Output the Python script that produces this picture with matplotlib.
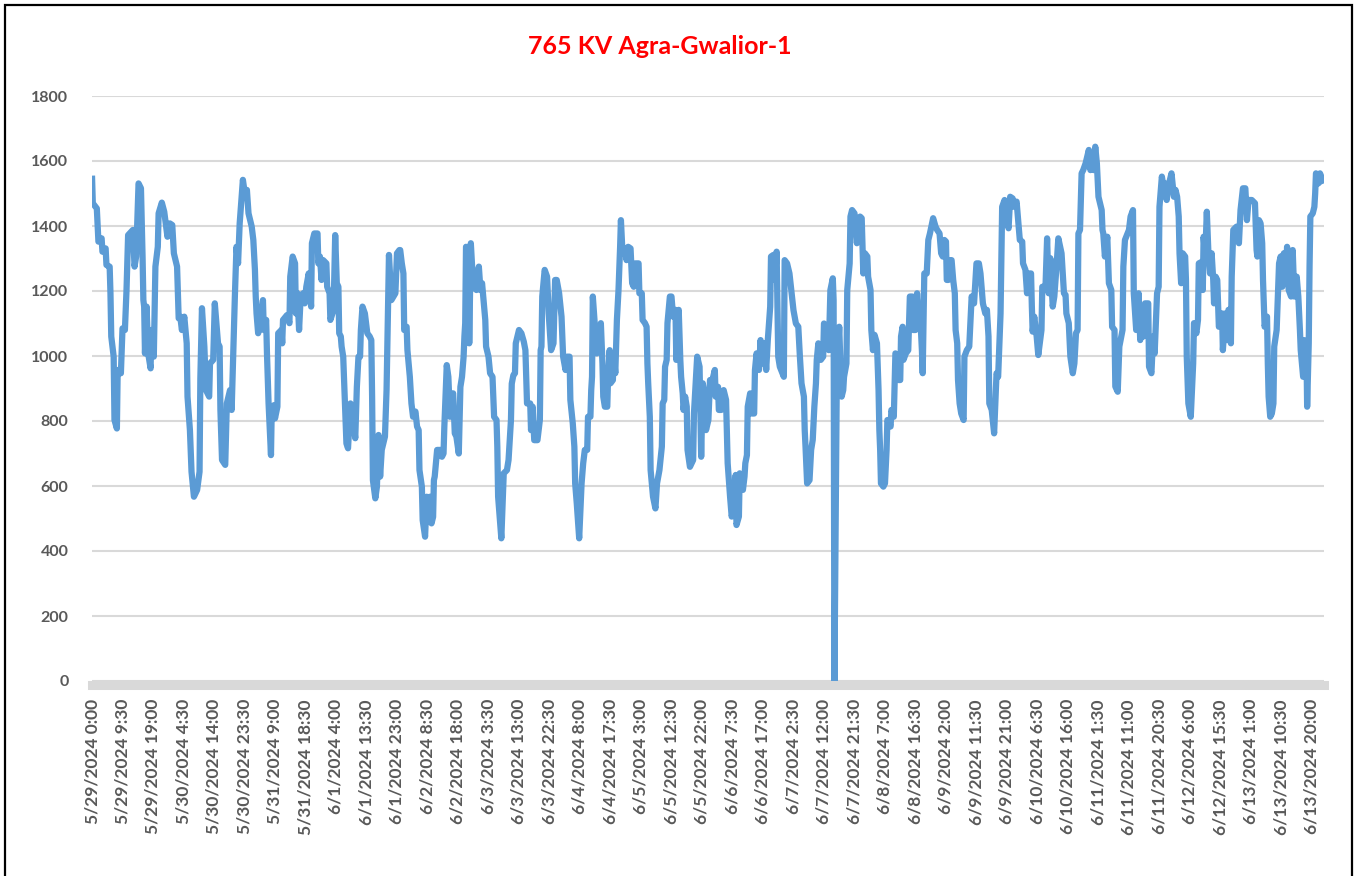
import matplotlib
matplotlib.use("Agg")
import matplotlib.pyplot as plt
from matplotlib.patches import Rectangle

# 15-minute slot index (0 = 5/29/2024 0:00) and line flow values (MW)
slots = [
    0, 1, 6, 8, 12, 13, 17, 18, 22, 23, 24, 27, 28, 31, 32, 36, 38, 41, 43, 45, 51, 53, 55, 58, 61, 63, 64, 65, 66, 68,
    70, 73, 74, 77, 79, 82, 83, 87, 90, 94, 97, 100, 102, 106, 108, 110, 112, 115, 118, 119, 122, 124, 127, 131, 134,
    135, 137, 140, 142, 146, 147, 151, 153, 157, 159, 160, 162, 166, 168, 172, 174, 178, 180, 182, 184, 188,
    191, 193, 195, 199, 201, 203, 204, 205, 207, 209, 213, 214, 217, 218, 220, 223, 224, 227, 228, 231, 232, 236, 237,
    238, 243, 246, 247, 250, 253, 254, 256, 258, 260, 263, 265, 267, 270, 273, 274, 277, 281, 282, 284, 286, 288, 292,
    293, 296, 297, 301, 303, 305, 307, 308, 310, 311, 313, 315, 317, 319, 322, 324, 328, 330, 332, 334, 335, 337, 340,
    343, 346, 348, 349, 350, 353, 355, 357, 359, 361, 365, 367, 369, 370, 373, 378, 380, 383,
    384, 386, 388, 389, 392, 393, 396, 398, 400, 403, 405, 407, 408, 411, 412, 415, 417, 419, 421, 423, 425, 426, 427,
    430, 434, 436, 438, 439, 442, 444, 446, 448, 450, 452, 454, 457, 459, 461, 463, 464, 465, 466, 469, 470, 472, 475,
    479, 482, 484, 486, 490, 491, 494, 496, 499, 501, 504, 505, 506, 510, 513, 517, 519, 522, 523, 525, 527, 528, 532,
    535, 538, 540, 542, 546, 547, 549, 551, 555, 558, 559, 560, 561, 564, 567, 569, 572, 575, 577,
    579, 582, 585, 586, 587, 590, 592, 595, 596, 599, 601, 602, 604, 607, 610, 612, 614, 617, 618, 621, 622, 623, 624,
    627, 629, 632, 634, 636, 637, 639, 642, 643, 645, 646, 649, 650, 652, 654, 656, 658, 659, 661, 664, 666, 668, 671,
    673, 675, 677, 681, 682, 685, 686, 689, 691, 692, 693, 695, 696, 699, 702, 704, 707, 710, 711, 713, 714, 716, 717,
    720, 722, 724, 727, 728, 731, 733, 734, 736, 737, 739, 741, 742, 745, 749, 750, 754, 757, 759, 761, 763, 765, 768, 770,
    773, 776, 777, 780, 781, 784, 785, 787, 790, 791, 792, 795, 797, 799, 802, 803, 806, 807, 809, 811, 813, 814, 816,
    817, 820, 822, 825, 826, 828, 831, 833, 835, 838, 840, 842, 845, 846, 849, 851, 853, 855, 857, 862, 863,
    866, 869, 874, 877, 880, 882, 884, 887, 888, 889, 891, 894, 896, 898, 900, 902, 903, 905, 908, 911, 912, 916, 918,
    920, 923, 924, 925, 928, 931, 933, 934, 936, 937, 940, 941, 944,
    945, 947, 950, 953, 955, 957, 959, 961,
    963, 966, 967, 970, 971, 973, 975, 978, 980, 981, 982, 983, 986, 988, 990, 991, 995, 996, 999, 1001, 1004, 1005,
    1007, 1008, 1010, 1011, 1014, 1017, 1019, 1022, 1023, 1026, 1028, 1030, 1032, 1034, 1035, 1037, 1040, 1042, 1044,
    1048, 1051, 1053, 1056, 1058, 1060, 1062, 1064, 1065, 1067, 1068, 1071, 1073, 1075, 1076, 1078, 1079, 1081, 1083,
    1086, 1087, 1090, 1093, 1096, 1099, 1102, 1105, 1107, 1110, 1113, 1115, 1117, 1118, 1121, 1124, 1127, 1129, 1132,
    1134, 1137, 1139, 1142, 1144, 1147, 1149, 1152, 1156,
    1159, 1160, 1163, 1165, 1166, 1170, 1171, 1172, 1174, 1177, 1179, 1183, 1184, 1188, 1190, 1192, 1194, 1197, 1199,
    1202, 1204, 1208, 1211, 1213, 1214, 1217, 1219, 1222, 1224, 1226, 1228, 1229, 1231, 1233, 1235, 1238, 1240, 1242,
    1244, 1246, 1248, 1250, 1252, 1254, 1258, 1259, 1260, 1262, 1265, 1267, 1270, 1271, 1274, 1275, 1278, 1280, 1284,
    1285, 1287, 1292, 1294, 1297, 1298, 1301, 1304, 1306, 1308, 1310, 1312, 1316, 1317, 1320, 1322, 1324, 1327, 1329,
    1330, 1333, 1335, 1337, 1339, 1341, 1345, 1348,
    1350, 1352, 1354, 1355, 1357, 1359, 1362, 1363, 1364, 1366, 1369, 1372, 1373, 1376, 1378, 1379, 1383, 1384, 1385,
    1387, 1389, 1391, 1393, 1395, 1397, 1398, 1400, 1402, 1404, 1406, 1408, 1409, 1412, 1414, 1416, 1419, 1420, 1422,
    1426, 1429, 1431, 1434, 1437, 1439, 1441, 1445, 1449, 1451, 1452, 1454, 1456, 1458, 1459, 1461, 1464, 1465, 1466,
    1468, 1470, 1472, 1473, 1476, 1479, 1481, 1483, 1485, 1487, 1489, 1491, 1494, 1496, 1498, 1501, 1503, 1505, 1506,
    1509, 1510, 1513, 1514, 1516, 1517, 1518, 1521, 1523, 1524, 1525, 1528, 1530, 1535,
]
values = [
    1555, 1470, 1454, 1352, 1362, 1321, 1331, 1280, 1275, 1193, 1060, 998, 803, 777, 957, 947, 1085, 1080, 1203, 1372,
    1388, 1275, 1306, 1531, 1516, 1306, 1172, 1152, 1008, 1152, 1008, 962, 1080, 998, 1275, 1336, 1439, 1472, 1444,
    1367, 1408, 1403, 1316, 1275, 1116, 1121, 1080, 1121, 1039, 875, 772, 644, 567, 588, 644, 931, 1147, 1029, 895,
    875, 977, 988, 1162, 1039, 1029, 834, 680, 665, 854, 895, 834, 1183, 1336, 1285, 1408, 1542,
    1490, 1511, 1439, 1398, 1357, 1265, 1183, 1131, 1070, 1090, 1172, 1080, 1111, 1008, 854, 695, 844, 849, 808, 844,
    1070, 1080, 1039, 1111, 1126, 1101, 1244, 1306, 1285, 1131, 1193, 1080, 1183, 1193, 1162, 1213, 1254, 1152, 1347,
    1377, 1377, 1285, 1306, 1234, 1295, 1285, 1213, 1193, 1111, 1142, 1372, 1224, 1213, 1070, 1060, 1029, 998, 865,
    731, 716, 854, 834, 747, 905, 998, 998, 1080, 1152, 1131, 1070, 1060, 1049, 875, 618, 562, 598, 757, 629, 711,
    752, 895, 1162, 1311, 1172, 1193, 1316, 1326,
    1326, 1285, 1254, 1080, 1090, 1018, 936, 854, 813, 829, 783, 772, 649, 598, 495, 444, 567, 490, 567, 485, 505, 618,
    629, 711, 711, 690, 700, 783, 972, 936, 813, 885, 885, 762, 752, 700, 905, 936, 998, 1060, 1101, 1336, 1326, 1039,
    1347, 1213, 1203, 1275, 1203, 1224, 1111, 1029, 998, 947, 936, 813, 803, 721, 567, 439, 639, 649, 680, 803, 915,
    941, 947, 1039, 1080, 1070, 1044, 1018, 854, 854, 772, 844, 741, 741, 803, 1018, 1029, 1183, 1265, 1244, 1131,
    1018, 1039, 1234,
    1234, 1193, 1121, 1060, 998, 957, 998, 998, 865, 793, 721, 608, 546, 439, 608, 670, 711, 711, 813, 813, 895, 936,
    1183, 1080, 1008, 1018, 1101, 977, 875, 844, 844, 936, 1018, 916, 926, 1008, 947, 1111, 1203, 1336, 1418, 1316,
    1331, 1295, 1336, 1331, 1224, 1213, 1285, 1285, 1193, 1193, 1111, 1101, 1090, 977, 916, 813, 649, 567, 531, 608,
    649, 721, 854, 865, 967, 988, 1101, 1183, 1183, 1121, 1142, 988, 1142, 988, 936, 885, 834, 875, 844, 711, 659,
    680, 823, 998, 967, 690, 916, 885, 772, 803, 926,
    926, 957, 875, 905, 834, 834, 885, 895, 865, 772, 670, 567, 506, 526, 634, 480, 506, 639, 618, 588, 629, 670, 695,
    844, 885, 823, 823, 957, 1008, 957, 1049, 977, 1039, 957, 1049, 1152, 1306, 1311, 1234, 1321, 998, 967, 936, 1295,
    1285, 1254, 1141, 1100, 1090, 998, 916, 875, 772, 721, 608, 618, 711, 742, 844, 916, 988, 1039, 988, 998, 1100,
    1080, 1018, 1203, 1239, 1172, 0, 936, 1090, 936, 875, 895, 936, 977, 1203, 1285,
    1429, 1449, 1439, 1347, 1408, 1429, 1424, 1254,
    1316, 1306, 1244, 1203, 1080, 1018, 1065, 1039, 895, 772, 711, 608, 598, 608, 711, 803, 783, 834, 813, 1008, 998,
    926, 926, 1060, 1090, 988, 1008, 1018, 1183, 1183, 1080, 1080, 1193, 1121, 1121, 1018, 947, 1254, 1254, 1357,
    1377, 1424, 1398, 1388, 1377, 1316, 1306, 1357, 1352, 1234, 1234, 1295, 1295, 1234, 1193, 1080, 1039, 926, 854,
    823, 803, 998, 1018, 1029, 1183, 1162, 1285, 1285, 1254, 1162, 1131, 1142, 1060, 854, 834, 762, 947, 936, 1131,
    1459, 1480, 1418, 1393, 1490, 1485, 1459, 1475, 1357,
    1352, 1285, 1265, 1193, 1254, 1254, 1152, 1075, 1121, 1060, 1003, 1080, 1213, 1213, 1362, 1193, 1301, 1152, 1183,
    1285, 1362, 1316, 1193, 1188, 1131, 1101, 998, 947, 977, 1070, 1080, 1377, 1388, 1562, 1572, 1593, 1613, 1634,
    1572, 1624, 1572, 1644, 1593, 1490, 1449, 1388, 1377, 1306, 1367, 1224, 1203, 1090, 1080, 906, 890, 1029, 1080,
    1275, 1357, 1388, 1429, 1449, 1193, 1080, 1193, 1049, 1121, 1060, 1162, 1162, 967, 947, 1060, 1008, 1193, 1213,
    1459, 1552, 1521, 1531, 1480, 1521, 1562, 1490,
    1511, 1490, 1429, 1316, 1224, 1316, 1306, 1234, 998, 854, 813, 977, 1101, 1070, 1111, 1285, 1290, 1203, 1367,
    1306, 1444, 1316, 1254, 1316, 1234, 1162, 1244, 1234, 1090, 1090, 1131, 1018, 1131, 1049, 1142, 1039, 1244, 1388,
    1398, 1347, 1449, 1516, 1516, 1418, 1480, 1480, 1470, 1326, 1306, 1418, 1408, 1347, 1234, 1090, 1121, 977, 875,
    813, 823, 854, 1029, 1080, 1285, 1306, 1213, 1316, 1224, 1336, 1203, 1183, 1326, 1183, 1244, 1183, 1080, 1018,
    936, 1049, 1039, 844, 1039, 1275, 1429, 1439, 1459, 1500, 1562, 1531, 1562, 1531,
]

tick_labels = [
    "5/29/2024 0:00", "5/29/2024 9:30", "5/29/2024 19:00", "5/30/2024 4:30", "5/30/2024 14:00",
    "5/30/2024 23:30", "5/31/2024 9:00", "5/31/2024 18:30", "6/1/2024 4:00", "6/1/2024 13:30",
    "6/1/2024 23:00", "6/2/2024 8:30", "6/2/2024 18:00", "6/3/2024 3:30", "6/3/2024 13:00",
    "6/3/2024 22:30", "6/4/2024 8:00", "6/4/2024 17:30", "6/5/2024 3:00", "6/5/2024 12:30",
    "6/5/2024 22:00", "6/6/2024 7:30", "6/6/2024 17:00", "6/7/2024 2:30", "6/7/2024 12:00",
    "6/7/2024 21:30", "6/8/2024 7:00", "6/8/2024 16:30", "6/9/2024 2:00", "6/9/2024 11:30",
    "6/9/2024 21:00", "6/10/2024 6:30", "6/10/2024 16:00", "6/11/2024 1:30", "6/11/2024 11:00",
    "6/11/2024 20:30", "6/12/2024 6:00", "6/12/2024 15:30", "6/13/2024 1:00", "6/13/2024 10:30",
    "6/13/2024 20:00",
]
n_slots = 1536
tick_step = 38
y_ticks = [0, 200, 400, 600, 800, 1000, 1200, 1400, 1600, 1800]
title = "765 KV Agra-Gwalior-1"

plt.rcParams['font.family'] = ['Lato', 'DejaVu Sans']

W, H = 1361, 876
fig = plt.figure(figsize=(W / 100, H / 100), dpi=100)
ax = fig.add_axes([92 / W, 1 - 681 / H, (1324 - 92) / W, (681 - 96) / H])

ax.plot(slots, values, color="#5B9BD5", linewidth=4.5, solid_joinstyle="round",
        solid_capstyle="butt", zorder=3)

ax.set_xlim(0, n_slots - 1)
ax.set_ylim(0, 1800)
ax.set_yticks(y_ticks)
ax.set_yticklabels([str(v) for v in y_ticks], fontsize=11.5, fontweight="bold", color="#595959")
ax.set_xticks([i * tick_step for i in range(len(tick_labels))])
ax.set_xticklabels(tick_labels, rotation=90, fontsize=12.5, fontweight="bold", color="#595959",
                   ha="center", va="top")
ax.tick_params(axis="y", length=0, pad=17)
ax.tick_params(axis="x", length=0, pad=13)
ax.grid(axis="y", color="#D9D9D9", linewidth=1.5, zorder=0)
ax.set_axisbelow(True)
for side in ["left", "right", "top", "bottom"]:
    ax.spines[side].set_visible(False)
# thick light-grey category axis line just below zero
ax.axhline(-13, color="#D9D9D9", linewidth=6.5, zorder=1, clip_on=False)

fig.text(660 / W, 1 - 47 / H, title, color="#FF0000", fontsize=18, fontweight="bold",
         ha="center", va="center")

fig.patches.append(Rectangle((5 / W, -0.05), (1352 - 5) / W, 1.05 - 5 / H, transform=fig.transFigure,
                             fill=False, edgecolor="black", linewidth=1.6, zorder=10))

fig.savefig("out.png", dpi=100)
